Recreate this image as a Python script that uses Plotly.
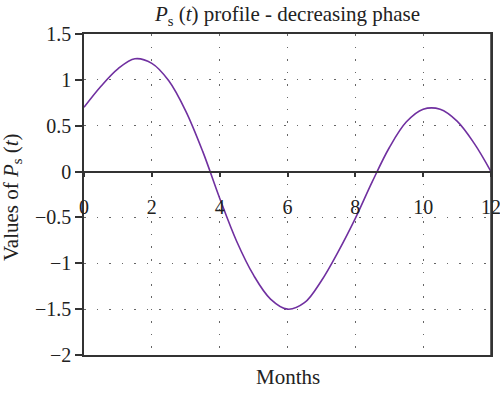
import plotly.graph_objects as go

# Values
months = [0.0, 0.5, 1.0, 1.5, 2.0, 2.5, 3.0, 3.5, 4.0, 4.5, 5.0, 5.5, 6.0,
          6.5, 7.0, 7.5, 8.0, 8.5, 9.0, 9.5, 10.0, 10.5, 11.0, 11.5, 12.0]
ps_values = [0.70, 0.93, 1.12, 1.23, 1.18, 0.99, 0.66, 0.22, -0.29, -0.76, -1.13, -1.39, -1.50,
             -1.43, -1.19, -0.87, -0.51, -0.11, 0.26, 0.54, 0.68, 0.68, 0.55, 0.31, 0.0]

x_ticks = [0, 2, 4, 6, 8, 10, 12]
y_ticks = [1.5, 1, 0.5, 0, -0.5, -1, -1.5, -2]
y_tick_text = ["1.5", "1", "0.5", "0", "\u22120.5", "\u22121", "\u22121.5", "\u22122"]

FONT = "Liberation Serif"
TXT = "#222222"
AXC = "#333333"
GRIDC = "#666666"
DOT = "1.5px,11px"

fig = go.Figure()
fig.add_trace(go.Scatter(x=months, y=ps_values, mode="lines",
                         line=dict(color="#7030A0", width=1.6, shape="spline", smoothing=1.0),
                         showlegend=False, hoverinfo="skip", cliponaxis=False))
# invisible trace so the overlay axis (at y = 0) is drawn
fig.add_trace(go.Scatter(x=[0, 12], y=[0, 0], xaxis="x2", mode="lines",
                         line=dict(width=0), showlegend=False, hoverinfo="skip"))

fig.update_layout(
    width=500, height=393,
    margin=dict(l=84, r=9, t=34, b=38),
    paper_bgcolor="white", plot_bgcolor="white",
    font=dict(family=FONT, size=20, color=TXT),
    title=dict(text="<i>P</i><sub>s</sub> (<i>t</i>) profile - decreasing phase",
               x=0.5, xref="paper", xanchor="center", y=1 - 14 / 393, yanchor="middle",
               font=dict(family=FONT, size=21, color=TXT)),
    xaxis=dict(range=[0, 12], tickvals=x_ticks, showticklabels=False, ticks="",
               showgrid=True, gridcolor=GRIDC, griddash=DOT, gridwidth=1.3,
               showline=True, linecolor=AXC, linewidth=1.5, mirror=True, zeroline=False,
               automargin=False),
    xaxis2=dict(range=[0, 12], overlaying="x", anchor="free", position=2 / 3.5, side="bottom",
                tickvals=x_ticks, ticktext=[str(v) for v in x_ticks], ticks="outside", ticklen=5,
                tickcolor=AXC, tickwidth=1.5, ticklabelstandoff=13, ticklabeloverflow="allow",
                showgrid=False, showline=True, linecolor=AXC, linewidth=1.5, zeroline=False,
                automargin=False, tickfont=dict(family=FONT, size=20, color=TXT)),
    yaxis=dict(range=[-2, 1.5], tickvals=y_ticks, ticktext=y_tick_text, ticks="outside", ticklen=7,
               tickcolor=AXC, tickwidth=1.5,
               showgrid=True, gridcolor=GRIDC, griddash=DOT, gridwidth=1.3,
               showline=True, linecolor=AXC, linewidth=1.5, mirror=True, zeroline=False,
               automargin=False, tickfont=dict(family=FONT, size=20, color=TXT)),
    shapes=[dict(type="line", xref="paper", yref="paper", x0=1, x1=1, y0=0, y1=1,
                 line=dict(color=AXC, width=1.5), layer="above")],
    annotations=[
        dict(text="Months", xref="paper", yref="paper", x=0.5, y=-(377 - 355) / 321,
             xanchor="center", yanchor="middle", showarrow=False,
             font=dict(family=FONT, size=21, color=TXT)),
        dict(text="Values of <i>P</i><sub>s</sub> (<i>t</i>)", xref="paper", yref="paper",
             x=(12 - 84) / 407, y=(355 - 197) / 321, textangle=-90,
             xanchor="center", yanchor="middle", showarrow=False,
             font=dict(family=FONT, size=21, color=TXT)),
    ],
)

fig.write_html("out.html", config={"displayModeBar": False},
               post_script="document.body.style.margin='0';document.body.style.overflow='hidden';"
                           "document.documentElement.style.overflow='hidden';")
